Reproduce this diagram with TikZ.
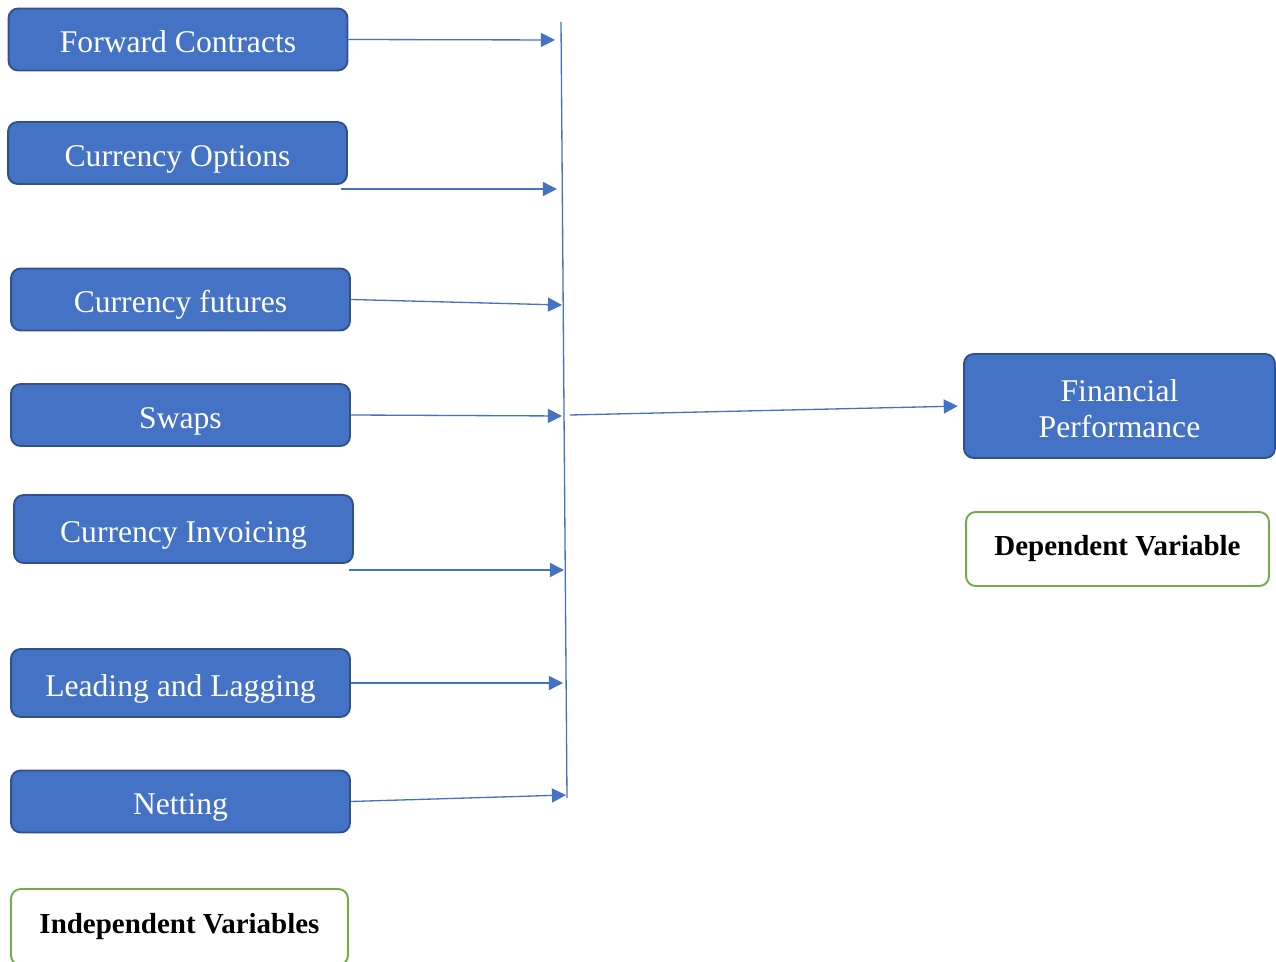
\documentclass[tikz,border=0pt]{standalone}
\usepackage{fontspec}
\setmainfont{Liberation Serif}
\usetikzlibrary{arrows.meta}

\definecolor{boxblue}{HTML}{4472C4}
\definecolor{boxedge}{HTML}{2F528F}
\definecolor{keygreen}{HTML}{70AD47}

\begin{document}
\begin{tikzpicture}[x=0.02cm,y=-0.02cm,
  var/.style={draw=boxedge, line width=1.1pt, fill=boxblue, rounded corners=5.5pt,
    text=white, font=\fontsize{18}{20.5}\selectfont, inner sep=0pt,
    text height=15pt, text depth=0pt,
    minimum width=6.78cm, minimum height=1.24cm},
  key/.style={draw=keygreen, line width=1.1pt, rounded corners=5.5pt,
    font=\bfseries\fontsize{16.5}{19}\selectfont, inner sep=0pt},
  link/.style={draw=boxblue, line width=0.75pt, -{Triangle[length=8pt,width=8pt]}}]

\path[use as bounding box, clip] (0,0) rectangle (1276,962);

% independent variables
\node[var] (fwd) at (178,39.5) {Forward Contracts};
\node[var] (opt) at (177.5,153) {Currency Options};
\node[var] (fut) at (180.5,299.5) {Currency futures};
\node[var] (swp) at (180.5,415) {Swaps};
\node[var, minimum height=1.36cm] (inv) at (183.5,529) {Currency Invoicing};
\node[var, minimum height=1.36cm] (lead) at (180.5,683) {Leading and Lagging};
\node[var] (net) at (180.5,801.5) {Netting};

% dependent variable
\node[var, minimum width=6.22cm, minimum height=2.08cm, align=center,
  text height=36pt, text depth=0pt] (fin) at (1119.5,406) {Financial\\Performance};

% keys
\node[key, minimum width=6.74cm, minimum height=1.52cm] (ind) at (179.5,927) {Independent Variables};
\node[key, minimum width=6.06cm, minimum height=1.48cm] (dep) at (1117.5,549) {Dependent Variable};

% collecting line
\coordinate (top) at (561,22);
\coordinate (bot) at (567,798);
\draw[boxblue, line width=0.75pt] (top) -- (bot);

\coordinate (t1) at (555,40);
\coordinate (t2) at (557,189);
\coordinate (t3) at (562,305);
\coordinate (t4) at (562,416);
\coordinate (t5) at (564,570);
\coordinate (t6) at (563,683);
\coordinate (t7) at (566,795);
\coordinate (optout) at (341,189);
\coordinate (invout) at (349,570);
\coordinate (mid) at (570,415);

\draw[link] (fwd.east) -- (t1);
\draw[link] (optout) -- (t2);
\draw[link] (fut.east) -- (t3);
\draw[link] (swp.east) -- (t4);
\draw[link] (invout) -- (t5);
\draw[link] (lead.east) -- (t6);
\draw[link] (net.east) -- (t7);
\draw[link, shorten >=3pt] (mid) -- (fin.west);

\end{tikzpicture}
\end{document}
